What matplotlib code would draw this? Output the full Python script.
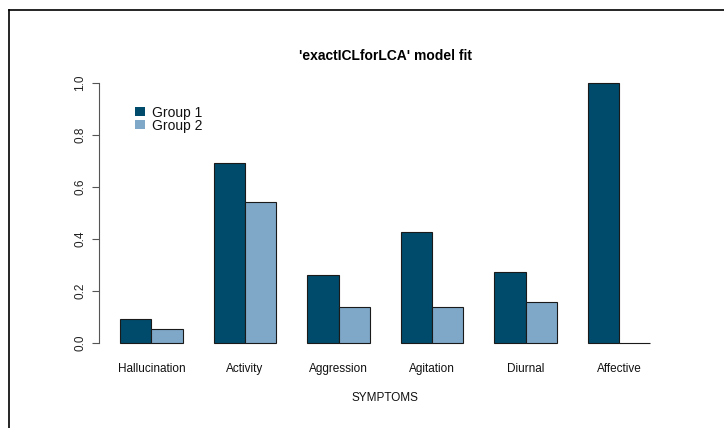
import matplotlib
matplotlib.use("Agg")
import matplotlib.pyplot as plt
from matplotlib.lines import Line2D
from matplotlib.patches import Rectangle
import numpy as np

plt.rcParams['font.family'] = ['Liberation Sans', 'DejaVu Sans']

categories = ["Hallucination", "Activity", "Aggression", "Agitation", "Diurnal", "Affective"]
group1 = [0.092, 0.692, 0.262, 0.427, 0.273, 1.0]
group2 = [0.054, 0.542, 0.138, 0.138, 0.158, 0.0]
series_names = ["Group 1", "Group 2"]
colors = ["#004B6B", "#7EA7C8"]
yticks = [0.0, 0.2, 0.4, 0.6, 0.8, 1.0]

fig = plt.figure(figsize=(7.24, 4.28), dpi=100)
W, H = 724, 428
ax = fig.add_axes([99 / W, 1 - 353.4 / H, (671.6 - 99) / W, (353.4 - 72.6) / H])

n = len(categories)
starts = 1 + 3 * np.arange(n)
ax.bar(starts, group1, width=1, align='edge', color=colors[0], edgecolor='#1a1a1a', linewidth=0.8)
ax.bar(starts + 1, group2, width=1, align='edge', color=colors[1], edgecolor='#1a1a1a', linewidth=0.8)

ax.set_xlim(0.32, 18.68)
ax.set_ylim(-0.04, 1.04)
for s in ['top', 'right', 'bottom']:
    ax.spines[s].set_visible(False)
ax.spines['left'].set_bounds(0, 1)
ax.spines['left'].set_color('#555555')
ax.set_yticks(yticks)
ax.set_yticklabels([f"{v:.1f}" for v in yticks], rotation=90, va='center', fontsize=8.5, color='#222222')
ax.tick_params(axis='y', length=5, color='#555555', pad=4)
ax.tick_params(axis='x', length=0, pad=7)
ax.set_xticks(starts + 1)
ax.set_xticklabels(categories, fontsize=8.5, color='#111111')
ax.set_xlabel("SYMPTOMS", fontsize=8.5, labelpad=12, color='#111111')
ax.set_title("'exactICLforLCA' model fit", fontsize=10, fontweight='bold', pad=9)

# legend
sq_centers = [111.5, 124.5]
txt_centers = [113, 126]
for name, c, yc, yt in zip(series_names, colors, sq_centers, txt_centers):
    fig.patches.append(Rectangle((135 / W, 1 - (yc + 4.75) / H), 9.5 / W, 9.5 / H,
                                 transform=fig.transFigure, facecolor=c, edgecolor='none'))
    fig.text(152 / W, 1 - yt / H, name, fontsize=10, va='center', ha='left', color='#111111')

# partial border
fig.add_artist(Line2D([8.5 / W, 1], [1 - 9.5 / H, 1 - 9.5 / H], transform=fig.transFigure, color='black', lw=1.2))
fig.add_artist(Line2D([8.5 / W, 8.5 / W], [0, 1 - 9.5 / H], transform=fig.transFigure, color='black', lw=1.2))

fig.savefig("out.png", dpi=100)
